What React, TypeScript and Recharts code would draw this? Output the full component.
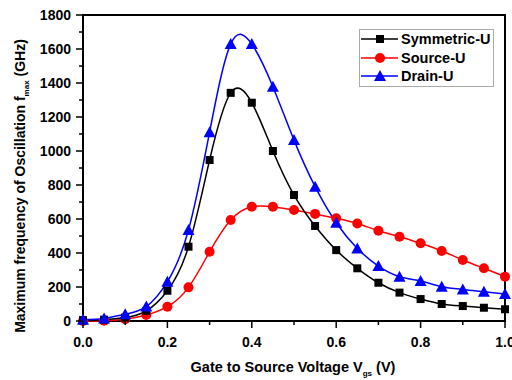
import React from 'react';
import { LineChart, Line, XAxis, YAxis, ReferenceArea } from 'recharts';

const VGS = [0, 0.05, 0.1, 0.15, 0.2, 0.25, 0.3, 0.35, 0.4, 0.45, 0.5, 0.55, 0.6, 0.65, 0.7, 0.75, 0.8, 0.85, 0.9, 0.95, 1.0];
const SYMMETRIC_U = [5, 8, 20, 60, 178, 437, 947, 1342, 1284, 1000, 741, 559, 417, 310, 225, 167, 129, 100, 88, 78, 69];
const SOURCE_U = [0, 2, 10, 35, 84, 198, 407, 594, 672, 672, 653, 630, 604, 574, 531, 496, 457, 412, 359, 310, 261];
const DRAIN_U = [8, 15, 40, 85, 231, 535, 1111, 1629, 1629, 1378, 1064, 790, 578, 427, 323, 261, 235, 202, 186, 172, 159];

const X_TICKS = [0, 0.1, 0.2, 0.3, 0.4, 0.5, 0.6, 0.7, 0.8, 0.9, 1.0];
const Y_TICKS = [0, 100, 200, 300, 400, 500, 600, 700, 800, 900, 1000, 1100, 1200, 1300, 1400, 1500, 1600, 1700, 1800];

const data = VGS.map((v, i) => ({ v, sym: SYMMETRIC_U[i], src: SOURCE_U[i], drn: DRAIN_U[i] }));

const FONT = '"Liberation Sans", Arial, sans-serif';

const XTick = (props: any) => {
  const { x, y, payload } = props;
  const val = payload.value;
  const major = Math.round(val * 10) % 2 === 0;
  return (
    <g>
      <line x1={x} x2={x} y1={y} y2={y + (major ? 7 : 4)} stroke="#000" strokeWidth={1.5} />
      {major && (
        <text x={x} y={y + 26} textAnchor="middle" fontSize={14} fontWeight="bold" fontFamily={FONT} fill="#000">
          {val.toFixed(1)}
        </text>
      )}
    </g>
  );
};

const YTick = (props: any) => {
  const { x, y, payload } = props;
  const val = payload.value;
  const major = val % 200 === 0;
  return (
    <g>
      <line x1={x} x2={x - (major ? 7 : 4)} y1={y} y2={y} stroke="#000" strokeWidth={1.5} />
      {major && (
        <text x={x - 12} y={y + 5} textAnchor="end" fontSize={14} fontWeight="bold" fontFamily={FONT} fill="#000">
          {val}
        </text>
      )}
    </g>
  );
};

const Square = (props: any) => {
  const { cx, cy } = props;
  return <rect x={cx - 4} y={cy - 4} width={8} height={8} fill="#000" />;
};
const Circle = (props: any) => {
  const { cx, cy } = props;
  return <circle cx={cx} cy={cy} r={5} fill="#ff0000" />;
};
const Triangle = (props: any) => {
  const { cx, cy } = props;
  return <polygon points={`${cx},${cy - 6} ${cx - 6},${cy + 5} ${cx + 6},${cy + 5}`} fill="#0000ff" />;
};

const YLabel = (props: any) => (
  <text transform="translate(25,186) rotate(-90)" textAnchor="middle" fontSize={14} fontWeight="bold" fontFamily={FONT} fill="#000">
    Maximum frequency of Oscillation f<tspan fontSize={8} dy={4}>max</tspan><tspan dy={-4}> (GHz)</tspan>
  </text>
);

const XLabel = (props: any) => (
  <text x={293} y={372} textAnchor="middle" fontSize={14.5} fontWeight="bold" fontFamily={FONT} fill="#000">
    Gate to Source Voltage V<tspan fontSize={8} dy={4}>gs</tspan><tspan dy={-4}> (V)</tspan>
  </text>
);

const LEGEND = [
  { name: 'Symmetric-U', color: '#000', kind: 'sq' },
  { name: 'Source-U', color: '#ff0000', kind: 'ci' },
  { name: 'Drain-U', color: '#0000ff', kind: 'tr' },
];

export default function App() {
  return (
    <div style={{ position: 'absolute', left: 0, top: 0, width: 512, height: 380, background: '#fff' }}>
      <LineChart width={512} height={380} data={data} margin={{ top: 15, right: 7, left: 0, bottom: 0 }}>
        <XAxis
          dataKey="v"
          type="number"
          domain={[0, 1]}
          ticks={X_TICKS}
          interval={0}
          tickSize={0}
          tickMargin={0}
          tickLine={false}
          axisLine={false}
          tick={<XTick />}
          height={59}
          label={<XLabel />}
        />
        <YAxis
          type="number"
          domain={[0, 1800]}
          ticks={Y_TICKS}
          interval={0}
          tickSize={0}
          tickMargin={0}
          tickLine={false}
          axisLine={false}
          tick={<YTick />}
          width={83}
          label={<YLabel />}
        />
        <ReferenceArea x1={0} x2={1} y1={0} y2={1800} fill="none" stroke="#000" strokeWidth={2} />
        <Line type="natural" dataKey="src" stroke="#ff0000" strokeWidth={1.5} dot={<Circle />} isAnimationActive={false} />
        <Line type="natural" dataKey="sym" stroke="#000" strokeWidth={1.5} dot={<Square />} isAnimationActive={false} />
        <Line type="natural" dataKey="drn" stroke="#0000ff" strokeWidth={1.5} dot={<Triangle />} isAnimationActive={false} />
      </LineChart>
      <div
        style={{
          position: 'absolute',
          left: 359,
          top: 29,
          width: 133,
          height: 56,
          border: '1px solid #aaa',
          background: '#fff',
          fontFamily: FONT,
          fontWeight: 'bold',
          fontSize: 14.5,
        }}
      >
        {LEGEND.map((it) => (
          <div key={it.name} style={{ display: 'flex', alignItems: 'center', height: 18.5 }}>
            <svg width={38} height={14} style={{ marginLeft: 1, flexShrink: 0 }}>
              <line x1={0} x2={37} y1={7} y2={7} stroke={it.color} strokeWidth={1.5} />
              {it.kind === 'sq' && <rect x={15} y={3} width={8} height={8} fill={it.color} />}
              {it.kind === 'ci' && <circle cx={19} cy={7} r={5} fill={it.color} />}
              {it.kind === 'tr' && <polygon points="19,1 13,12 25,12" fill={it.color} />}
            </svg>
            <span style={{ marginLeft: 2, whiteSpace: 'nowrap' }}>{it.name}</span>
          </div>
        ))}
      </div>
    </div>
  );
}
